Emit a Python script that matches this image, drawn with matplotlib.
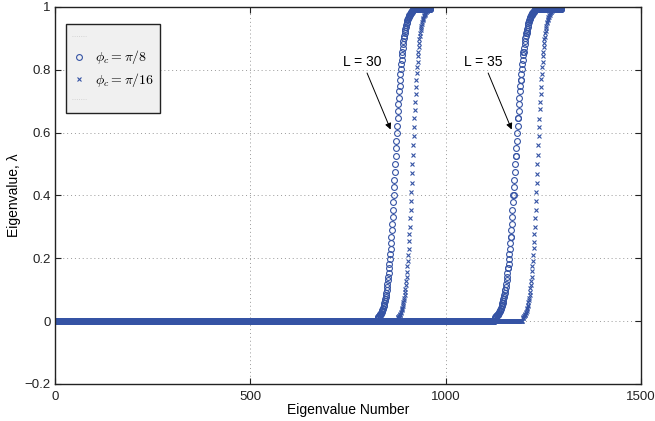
import numpy as np
import matplotlib
matplotlib.use("Agg")
import matplotlib.pyplot as plt
from matplotlib.lines import Line2D

# eigenvalue counts per lattice size, (L+1)^2
L30_N = 961
L35_N = 1296

# number of eigenvalues sitting at ~0 before each rise
L30_PI8_ZEROS = 825
L30_PI16_ZEROS = 876
L35_PI8_ZEROS = 1125
L35_PI16_ZEROS = 1196

# values through the transition
L30_PI8_RISE = [
    0.011, 0.012, 0.013, 0.015, 0.016, 0.018, 0.020, 0.022, 0.024, 0.027, 0.029, 0.032,
    0.036, 0.039, 0.043, 0.047, 0.052, 0.057, 0.063, 0.069, 0.076, 0.083, 0.091, 0.100,
    0.109, 0.119, 0.130, 0.142, 0.154, 0.168, 0.182, 0.198, 0.214, 0.231, 0.250, 0.269,
    0.289, 0.310, 0.332, 0.354, 0.378, 0.401, 0.426, 0.450, 0.475, 0.500,
    0.525, 0.550, 0.574, 0.599, 0.622, 0.646, 0.668, 0.690, 0.711, 0.731, 0.750, 0.769,
    0.786, 0.802, 0.818, 0.832, 0.846, 0.858, 0.870, 0.881, 0.891, 0.900, 0.909, 0.917,
    0.924, 0.931, 0.937, 0.943, 0.948, 0.953, 0.957, 0.961, 0.964, 0.968, 0.971, 0.973,
    0.976, 0.978, 0.980, 0.982, 0.984, 0.985, 0.987, 0.988, 0.989,
]
L30_PI16_RISE = [
    0.010, 0.012, 0.013, 0.015, 0.017, 0.019, 0.021, 0.024, 0.027, 0.030, 0.034, 0.038,
    0.042, 0.047, 0.053, 0.060, 0.067, 0.074, 0.083, 0.093, 0.103, 0.115, 0.128, 0.142,
    0.157, 0.174, 0.192, 0.211, 0.231, 0.254, 0.277, 0.301, 0.327, 0.354, 0.382, 0.411,
    0.440, 0.470, 0.500, 0.530, 0.560, 0.589, 0.618, 0.646, 0.673, 0.699, 0.723, 0.746,
    0.769, 0.789, 0.808, 0.826, 0.843, 0.858, 0.872, 0.885, 0.897, 0.907, 0.917, 0.926,
    0.933, 0.940, 0.947, 0.953, 0.958, 0.962, 0.966, 0.970, 0.973, 0.976, 0.979, 0.981,
    0.983, 0.985, 0.987, 0.988, 0.990,
]
L35_PI8_RISE = [
    0.011, 0.012, 0.013, 0.015, 0.016, 0.018, 0.018, 0.020, 0.022, 0.024, 0.027, 0.029,
    0.032, 0.032, 0.036, 0.039, 0.043, 0.047, 0.052, 0.057, 0.057, 0.063, 0.069, 0.076,
    0.083, 0.091, 0.100, 0.100, 0.109, 0.119, 0.130, 0.142, 0.154, 0.168, 0.168, 0.182,
    0.198, 0.214, 0.231, 0.250, 0.269, 0.269, 0.289, 0.310, 0.332, 0.354, 0.378, 0.401,
    0.401, 0.426, 0.450, 0.475, 0.500,
    0.525, 0.525, 0.550, 0.574, 0.599, 0.622, 0.646, 0.646, 0.668, 0.690, 0.711, 0.731,
    0.750, 0.769, 0.769, 0.786, 0.802, 0.818, 0.832, 0.846, 0.858, 0.858, 0.870, 0.881,
    0.891, 0.900, 0.909, 0.917, 0.917, 0.924, 0.931, 0.937, 0.943, 0.948, 0.953, 0.957,
    0.961, 0.964, 0.968, 0.971, 0.973, 0.976, 0.978, 0.980, 0.982, 0.984, 0.985, 0.987,
    0.988, 0.989,
]
L35_PI16_RISE = [
    0.010, 0.011, 0.013, 0.015, 0.016, 0.019, 0.021, 0.023, 0.027, 0.030, 0.033, 0.038,
    0.043, 0.047, 0.052, 0.060, 0.067, 0.075, 0.083, 0.092, 0.104, 0.115, 0.127, 0.142,
    0.158, 0.174, 0.190, 0.212, 0.232, 0.253, 0.278, 0.300, 0.328, 0.353, 0.383, 0.410,
    0.441, 0.469, 0.501, 0.529, 0.561, 0.588, 0.619, 0.645, 0.674, 0.698, 0.724, 0.745,
    0.770, 0.788, 0.809, 0.825, 0.844, 0.857, 0.873, 0.884, 0.898, 0.906, 0.918, 0.925,
    0.934, 0.939, 0.948, 0.952, 0.959, 0.961, 0.967, 0.969, 0.974, 0.975, 0.980, 0.981,
    0.984, 0.985, 0.987, 0.989, 0.990,
]
TOP_VALUE = 0.993

X_TICKS = [0, 500, 1000, 1500]
Y_TICKS = [-0.2, 0, 0.2, 0.4, 0.6, 0.8, 1]
Y_TICK_LABELS = ["\u22120.2", "0", "0.2", "0.4", "0.6", "0.8", "1"]

BLUE = "#3553a4"


def series(n, zeros, rise, top):
  vals = np.concatenate([np.zeros(zeros), rise, np.full(n - zeros - len(rise), top)])
  return np.arange(1, n + 1), vals


def main():
  plt.rcParams['font.family'] = ['Liberation Sans', 'DejaVu Sans']
  plt.rcParams['mathtext.fontset'] = 'cm'

  fig = plt.figure(figsize=(6.55, 4.21), dpi=100, facecolor='white')
  ax = fig.add_axes([0.084, 0.088, 0.8946, 0.8954])

  circ = dict(ls='none', marker='o', ms=4.2, mfc='none', mec=BLUE, mew=0.8)
  cross = dict(ls='none', marker='x', ms=3.4, mec=BLUE, mew=0.8)

  x, y = series(L30_N, L30_PI8_ZEROS, L30_PI8_RISE, TOP_VALUE)
  ax.plot(x, y, **circ)
  x, y = series(L35_N, L35_PI8_ZEROS, L35_PI8_RISE, TOP_VALUE)
  ax.plot(x, y, **circ)
  x, y = series(L30_N, L30_PI16_ZEROS, L30_PI16_RISE, TOP_VALUE)
  ax.plot(x, y, **cross)
  x, y = series(L35_N, L35_PI16_ZEROS, L35_PI16_RISE, TOP_VALUE)
  ax.plot(x, y, **cross)

  ax.set_xlim(0, 1500)
  ax.set_ylim(-0.2, 1)
  ax.set_xticks(X_TICKS)
  ax.set_xticklabels([str(t) for t in X_TICKS])
  ax.set_yticks(Y_TICKS)
  ax.set_yticklabels(Y_TICK_LABELS)
  ax.tick_params(direction='in', length=4, width=0.8, top=True, right=True,
                 labelsize=9.5, colors='#222222')
  ax.tick_params(axis='x', pad=5)
  ax.tick_params(axis='y', pad=3)
  for s in ax.spines.values():
    s.set_linewidth(1.0)
    s.set_color('#222222')
  ax.grid(True, ls=(0, (1, 3)), color='#999999', lw=0.7)
  ax.set_axisbelow(True)

  ax.set_xlabel("Eigenvalue Number", fontsize=10, labelpad=0)
  ax.set_ylabel("Eigenvalue, \u03bb", fontsize=10, labelpad=3)

  arrow = dict(arrowstyle='-|>', color='black', lw=0.7, mutation_scale=9, shrinkA=1, shrinkB=0)
  ax.annotate("L = 30", xy=(859, 0.61), xytext=(787, 0.825), ha='center', va='center',
              fontsize=10, arrowprops=arrow)
  ax.annotate("L = 35", xy=(1169, 0.61), xytext=(1097, 0.825), ha='center', va='center',
              fontsize=10, arrowprops=arrow)

  blank = Line2D([], [], ls=':', color='#cccccc', lw=0.6)
  h_circ = Line2D([], [], **circ)
  h_cross = Line2D([], [], **cross)
  leg = ax.legend([blank, h_circ, h_cross, blank],
                  [' ', r'$\phi_c = \pi/8$', r'$\phi_c = \pi/16$', ' '],
                  loc='upper left', bbox_to_anchor=(0.019, 0.955), borderaxespad=0,
                  numpoints=1, handlelength=1.0, handletextpad=0.6, labelspacing=0.3,
                  borderpad=0.45, fontsize=10, fancybox=False, framealpha=1,
                  facecolor='#f0f0f0', edgecolor='#222222')
  leg.get_frame().set_linewidth(1.0)

  fig.savefig("out.png", dpi=100, facecolor='white')


if __name__ == '__main__':
  main()
